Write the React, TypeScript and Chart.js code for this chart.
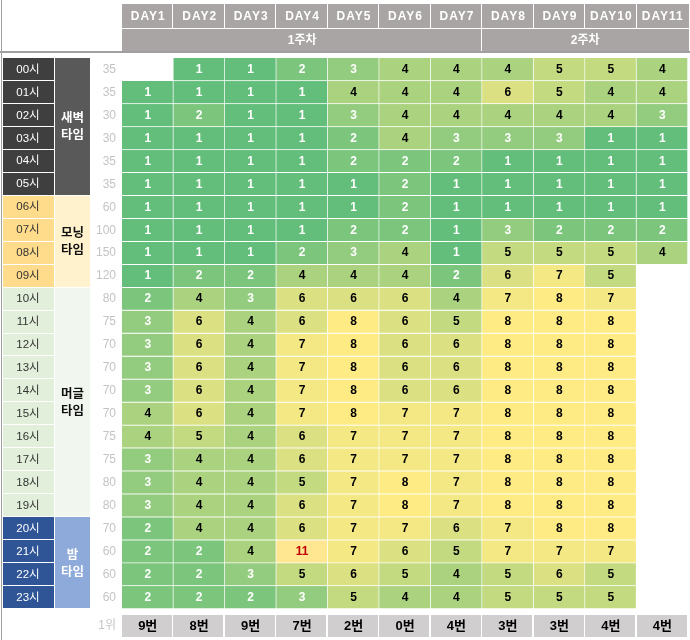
import React, { useEffect, useRef } from "react";
import { Chart, registerables } from "chart.js";

Chart.register(...registerables);

// ---------- data ----------
const days = ["DAY1", "DAY2", "DAY3", "DAY4", "DAY5", "DAY6", "DAY7", "DAY8", "DAY9", "DAY10", "DAY11"];
const weekLabels = ["1주차", "2주차"];
const weekSpans = [7, 4];
const hourLabels = [
  "00시", "01시", "02시", "03시", "04시", "05시", "06시", "07시", "08시", "09시", "10시", "11시",
  "12시", "13시", "14시", "15시", "16시", "17시", "18시", "19시", "20시", "21시", "22시", "23시",
];
const capacity = [35, 35, 30, 30, 35, 35, 60, 100, 150, 120, 80, 75, 70, 70, 70, 70, 75, 75, 80, 80, 70, 60, 60, 60];
const groupNames = [["새벽", "타임"], ["모닝", "타임"], ["머글", "타임"], ["밤", "타임"]];
const groupStart = [0, 6, 10, 20];
const groupEnd = [5, 9, 19, 23];
const rankLabel = "1위";
const ranks = ["9번", "8번", "9번", "7번", "2번", "0번", "4번", "3번", "3번", "4번", "4번"];

const h00 = [null, 1, 1, 2, 3, 4, 4, 4, 5, 5, 4];
const h01 = [1, 1, 1, 1, 4, 4, 4, 6, 5, 4, 4];
const h02 = [1, 2, 1, 1, 3, 4, 4, 4, 4, 4, 3];
const h03 = [1, 1, 1, 1, 2, 4, 3, 3, 3, 1, 1];
const h04 = [1, 1, 1, 1, 2, 2, 2, 1, 1, 1, 1];
const h05 = [1, 1, 1, 1, 1, 2, 1, 1, 1, 1, 1];
const h06 = [1, 1, 1, 1, 1, 2, 1, 1, 1, 1, 1];
const h07 = [1, 1, 1, 1, 2, 2, 1, 3, 2, 2, 2];
const h08 = [1, 1, 1, 2, 3, 4, 1, 5, 5, 5, 4];
const h09 = [1, 2, 2, 4, 4, 4, 2, 6, 7, 5, null];
const h10 = [2, 4, 3, 6, 6, 6, 4, 7, 8, 7, null];
const h11 = [3, 6, 4, 6, 8, 6, 5, 8, 8, 8, null];
const h12 = [3, 6, 4, 7, 8, 6, 6, 8, 8, 8, null];
const h13 = [3, 6, 4, 7, 8, 6, 6, 8, 8, 8, null];
const h14 = [3, 6, 4, 7, 8, 6, 6, 8, 8, 8, null];
const h15 = [4, 6, 4, 7, 8, 7, 7, 8, 8, 8, null];
const h16 = [4, 5, 4, 6, 7, 7, 7, 8, 8, 8, null];
const h17 = [3, 4, 4, 6, 7, 7, 7, 8, 8, 8, null];
const h18 = [3, 4, 4, 5, 7, 8, 7, 8, 8, 8, null];
const h19 = [3, 4, 4, 6, 7, 8, 7, 8, 8, 8, null];
const h20 = [2, 4, 4, 6, 7, 7, 6, 7, 8, 8, null];
const h21 = [2, 2, 4, 11, 7, 6, 5, 7, 7, 7, null];
const h22 = [2, 2, 3, 5, 6, 5, 4, 5, 6, 5, null];
const h23 = [2, 2, 2, 3, 5, 4, 4, 5, 5, 5, null];
const values: (number | null)[][] = [
  h00, h01, h02, h03, h04, h05, h06, h07, h08, h09, h10, h11,
  h12, h13, h14, h15, h16, h17, h18, h19, h20, h21, h22, h23,
];

// ---------- styles ----------
const FONT = '"Liberation Sans", "Noto Sans CJK KR", sans-serif';
const hourFill = ["#3f3f3f", "#ffdc8c", "#e2efda", "#2f5597"];
const groupFill = ["#595959", "#fff2cc", "#f1f7ee", "#8eaadb"];
const hourText = ["#ffffff", "#333333", "#333333", "#ffffff"];
const groupText = ["#ffffff", "#111111", "#111111", "#ffffff"];
const HEADER_BG = "#a9a5a5";
const RANK_BG = "#d0cece";

function lerp(a: number[], b: number[], t: number) {
  return a.map((v, i) => Math.round(v + (b[i] - v) * t));
}
function cellColor(v: number) {
  const g = [99, 190, 123];
  const y = [255, 235, 132];
  const o = [255, 230, 145];
  let c;
  if (v <= 7.5) c = lerp(g, y, Math.max(0, (v - 1) / 6.5));
  else c = lerp(y, o, Math.min(1, (v - 8) / 3));
  return `rgb(${c[0]},${c[1]},${c[2]})`;
}
function textColor(v: number) {
  if (v >= 10) return "#c00000";
  return v <= 3 ? "#ffffff" : "#000000";
}

const tablePlugin = {
  id: "tableDecor",
  beforeDatasetsDraw(chart: any) {
    const { ctx, chartArea, scales } = chart;
    const xs = scales.x;
    const ys = scales.y;
    const colW = chartArea.width / days.length;
    ctx.save();
    // frame lines
    ctx.fillStyle = "#a0a0a0";
    ctx.fillRect(1, 0, 1, 640);
    ctx.fillRect(0, 51, 690, 2);
    // header
    const hx0 = chartArea.left;
    const hx1 = chartArea.right + 1;
    ctx.fillStyle = HEADER_BG;
    ctx.fillRect(hx0, 4, hx1 - hx0, 47);
    ctx.fillStyle = "#ffffff";
    ctx.fillRect(hx0, 28, hx1 - hx0, 1);
    ctx.textAlign = "center";
    ctx.textBaseline = "middle";
    ctx.font = `bold 12px ${FONT}`;
    (ctx as any).letterSpacing = "1px";
    days.forEach((d, i) => {
      const cx = xs.getPixelForValue(i);
      const right = cx + colW / 2;
      ctx.fillStyle = "#ffffff";
      if (i < days.length - 1) ctx.fillRect(Math.round(right) - 1, 4, 1, 24);
      ctx.fillText(d, cx + 0.5, 16.5);
    });
    (ctx as any).letterSpacing = "0px";
    let start = 0;
    weekLabels.forEach((w, k) => {
      const end = start + weekSpans[k] - 1;
      const l = xs.getPixelForValue(start) - colW / 2;
      const r = xs.getPixelForValue(end) + colW / 2;
      ctx.fillStyle = "#ffffff";
      if (k < weekLabels.length - 1) ctx.fillRect(Math.round(r) - 1, 28, 1, 23);
      ctx.fillText(w, (l + r) / 2, 40.5);
      start = end + 1;
    });
    // left hour labels
    hourLabels.forEach((lab, h) => {
      const g = groupStart.filter((s) => s <= h).length - 1;
      const y0 = ys.getPixelForValue(h);
      const y1 = ys.getPixelForValue(h + 1);
      ctx.fillStyle = hourFill[g];
      ctx.fillRect(3, Math.round(y0), 51, Math.round(y1) - Math.round(y0) - 1);
      ctx.fillStyle = hourText[g];
      ctx.font = `11.5px ${FONT}`;
      ctx.textAlign = "center";
      ctx.fillText(lab, 28, (y0 + y1) / 2);
      ctx.fillStyle = "#c4c4c4";
      ctx.font = `12px ${FONT}`;
      ctx.textAlign = "right";
      ctx.fillText(String(capacity[h]), 116, (y0 + y1) / 2);
    });
    // group cells
    groupNames.forEach((names, g) => {
      const y0 = ys.getPixelForValue(groupStart[g]);
      const y1 = ys.getPixelForValue(groupEnd[g] + 1);
      ctx.fillStyle = groupFill[g];
      ctx.fillRect(55, Math.round(y0), 35, Math.round(y1) - Math.round(y0) - 1);
      ctx.fillStyle = groupText[g];
      ctx.font = `bold 12.5px ${FONT}`;
      ctx.textAlign = "center";
      const cy = (y0 + y1) / 2;
      ctx.fillText(names[0], 72.5, cy - 8);
      ctx.fillText(names[1], 72.5, cy + 9);
    });
    // rank row
    const ry0 = 615;
    const ry1 = 637;
    ctx.font = `12px ${FONT}`;
    ctx.fillStyle = "#c4c4c4";
    ctx.textAlign = "right";
    ctx.fillText(rankLabel, 116, (ry0 + ry1) / 2);
    ranks.forEach((r, i) => {
      const cx = xs.getPixelForValue(i);
      ctx.fillStyle = RANK_BG;
      ctx.fillRect(Math.round(cx - colW / 2), ry0, Math.round(colW) - 1, ry1 - ry0);
      ctx.fillStyle = "#000000";
      ctx.font = `bold 13px ${FONT}`;
      ctx.textAlign = "center";
      ctx.fillText(r, cx, (ry0 + ry1) / 2 + 0.5);
    });
    ctx.restore();
  },
  afterDatasetsDraw(chart: any) {
    const { ctx } = chart;
    ctx.save();
    ctx.font = `bold 12px ${FONT}`;
    ctx.textAlign = "center";
    ctx.textBaseline = "middle";
    chart.data.datasets.forEach((ds: any, di: number) => {
      const meta = chart.getDatasetMeta(di);
      meta.data.forEach((el: any, i: number) => {
        const v = values[di][i];
        if (v == null) return;
        const p = el.getCenterPoint();
        ctx.fillStyle = textColor(v);
        ctx.fillText(String(v), p.x, p.y);
      });
    });
    ctx.restore();
  },
};

export default function App() {
  const ref = useRef<HTMLCanvasElement | null>(null);
  useEffect(() => {
    if (!ref.current) return;
    const datasets = values.map((row, h) => ({
      label: hourLabels[h],
      data: row.map((v) => (v == null ? null : [h, h + 1])),
      backgroundColor: row.map((v) => (v == null ? "rgba(0,0,0,0)" : cellColor(v))),
      borderColor: "#ffffff",
      borderWidth: { top: 0, left: 0, right: 1, bottom: 1 },
      borderSkipped: false,
      grouped: false,
      categoryPercentage: 1,
      barPercentage: 1,
    }));
    const chart = new Chart(ref.current, {
      type: "bar",
      data: { labels: days, datasets: datasets as any },
      options: {
        animation: false,
        responsive: false,
        devicePixelRatio: 1,
        layout: { padding: { left: 122, right: 2, top: 58, bottom: 31 } },
        plugins: { legend: { display: false }, tooltip: { enabled: false } },
        scales: {
          x: { type: "category", display: false, offset: true, grid: { display: false } },
          y: { type: "linear", display: false, min: 0, max: 24, reverse: true },
        },
      },
      plugins: [tablePlugin],
    });
    return () => chart.destroy();
  }, []);
  return (
    <div style={{ position: "absolute", left: 0, top: 0, width: 690, height: 640, background: "#fff" }}>
      <canvas ref={ref} width={690} height={640} style={{ display: "block" }} />
    </div>
  );
}
